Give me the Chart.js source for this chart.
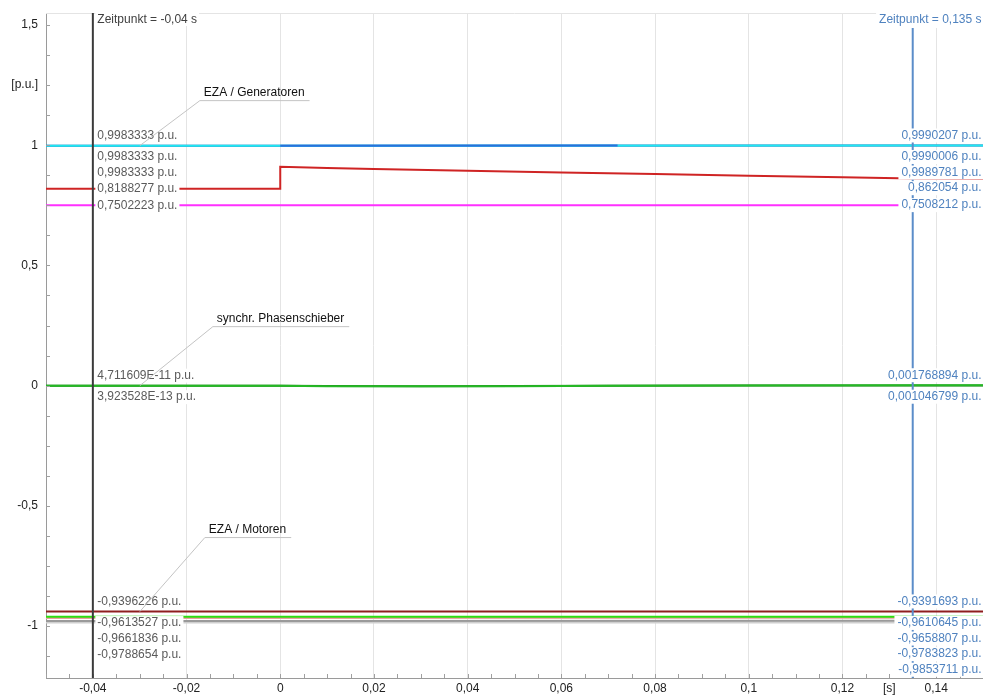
<!DOCTYPE html>
<html>
<head>
<meta charset="utf-8">
<script src="https://cdn.jsdelivr.net/npm/chart.js@4/dist/chart.umd.min.js"></script>
<style>
  html, body { margin: 0; padding: 0; background: #fff; }
  canvas { display: block; }
</style>
</head>
<body>
<canvas id="chart" width="983" height="695"></canvas>
<script>
// Cursor times [s]
const cursorStart = -0.04;
const cursorEnd = 0.135;

// Axis tick labels
const xTickValues = [-0.04, -0.02, 0, 0.02, 0.04, 0.06, 0.08, 0.1, 0.12, 0.13, 0.14];
const xTickLabels = ['-0,04', '-0,02', '0', '0,02', '0,04', '0,06', '0,08', '0,1', '0,12', '[s]', '0,14'];
const yTickValues = [1.5, 1.25, 1, 0.5, 0, -0.5, -1];
const yTickLabels = ['1,5', '[p.u.]', '1', '0,5', '0', '-0,5', '-1'];

// Group names
const groupNames = ['EZA / Generatoren', 'synchr. Phasenschieber', 'EZA / Motoren'];

// Time points [s]
const tFlat   = [-0.05, -0.04, 0, 0.135, 0.15];
const tBlue   = [-0.05, -0.04, 0, 0.072, 0.135, 0.15];
const tStep   = [-0.05, -0.04, 0, 0, 0.01, 0.02, 0.04, 0.06, 0.08, 0.1, 0.12, 0.135, 0.15];
const tSmooth = [-0.05, -0.04, 0, 0.01, 0.03, 0.05, 0.07, 0.1, 0.135, 0.15];
const tLate   = [-0.05, 0.135, 0.15];

// EZA / Generatoren [p.u.]
const genCyan    = [0.9983333, 0.9983333, 0.9983333, 0.9990207, 0.9990300];
const genBlue    = [0.9983333, 0.9983333, 0.9983333, 0.9987500, 0.9990006, 0.9990100];
const genNavy    = [0.9983333, 0.9983333, 0.9983333, 0.9989781, 0.9989850];
const genRed     = [0.8188277, 0.8188277, 0.8188277, 0.910, 0.905, 0.901, 0.894, 0.887, 0.880, 0.873, 0.867, 0.862054, 0.8595];
const genMagenta = [0.7502223, 0.7502223, 0.7502223, 0.7508212, 0.7508300];

// synchr. Phasenschieber [p.u.]
const phaseGreen = [4.711609e-11, 4.711609e-11, 4.711609e-11, -0.002, -0.003, -0.002, -0.0005, 0.001, 0.001768894, 0.0019];
const phaseDark  = [3.923528e-13, 3.923528e-13, 3.923528e-13, -0.0015, -0.002, -0.0015, -0.0003, 0.0006, 0.001046799, 0.0011];

// EZA / Motoren [p.u.]
const motDarkRed   = [-0.9396226, -0.9396226, -0.9396226, -0.9391693, -0.9391600];
const motGreen     = [-0.9613527, -0.9613527, -0.9613527, -0.9610645, -0.9610500];
const motPink      = [-0.9661836, -0.9661836, -0.9661836, -0.9658807, -0.9658700];
const motGrey      = [-0.9788654, -0.9788654, -0.9788654, -0.9783823, -0.9783700];
const motLightGrey = [-0.9854000, -0.9853711, -0.9853700];

const FONT_FAMILY = '"Liberation Sans", Arial, Helvetica, sans-serif';
const FONT = '12px ' + FONT_FAMILY;
const COL_LEFT = '#5a5a5a';
const COL_RIGHT = '#4f82bf';

function pts(times, values) {
  return times.map((t, i) => ({ x: t, y: values[i] }));
}
function series(times, values, color, extra) {
  return Object.assign({
    data: pts(times, values),
    borderColor: color,
    borderWidth: 2,
    pointRadius: 0,
    tension: 0,
    fill: false
  }, extra || {});
}
function fmt(v) {
  return String(v).replace('.', ',').replace('e', 'E');
}
function near(a, b) { return Math.abs(a - b) < 1e-9; }

const BLUE = '#2b6fdc';
const dsBlue = series(tBlue, genBlue, BLUE, {
  segment: {
    borderColor: c => (c.p0.parsed.x >= 0 && c.p1.parsed.x <= 0.072 + 1e-9) ? BLUE : 'rgba(0,0,0,0)'
  }
});
const dsCyan = series(tFlat, genCyan, '#1ee8f2');
const dsNavy = series(tFlat, genNavy, '#2b4fb0');
const dsRed = series(tStep, genRed, '#cf2424');
const dsMagenta = series(tFlat, genMagenta, '#ff30ff');
const dsPhase = series(tSmooth, phaseGreen, '#25b825');
const dsPhase2 = series(tSmooth, phaseDark, '#1b7a1b');
const dsMotDR = series(tFlat, motDarkRed, '#8e1e1e');
const dsMotG = series(tFlat, motGreen, '#2ddd10');
const dsMotP = series(tFlat, motPink, '#e6a49c');
const dsMotGr = series(tFlat, motGrey, '#9a9a9a');
const dsMotLG = series(tLate, motLightGrey, '#cfcfcf');

const datasets = [dsBlue, dsCyan, dsNavy, dsRed, dsMagenta, dsPhase, dsPhase2,
                  dsMotDR, dsMotG, dsMotP, dsMotGr, dsMotLG];

// group name callouts: anchor series, elbow offset from the anchor
const callouts = [
  { text: groupNames[0], ds: dsCyan, dx: 60, dy: -45 },
  { text: groupNames[1], ds: dsPhase, dx: 73, dy: -59 },
  { text: groupNames[2], ds: dsMotDR, dx: 65, dy: -74 }
];

function stepTicks(from, to, step) {
  const out = [];
  const n0 = Math.round(from / step), n1 = Math.round(to / step);
  for (let k = n0; k <= n1; k++) out.push({ value: +(k * step).toFixed(6) });
  return out;
}

// value labels at a cursor: first of a group sits above its line, the rest stack below
function cursorItems(chart, t) {
  const ys = chart.scales.y;
  const items = [];
  chart.data.datasets.forEach((ds, i) => {
    const p = ds.data.find(d => near(d.x, t));
    if (p) items.push({ v: p.y, py: ys.getPixelForValue(p.y), i });
  });
  items.sort((a, b) => (a.py - b.py) || (a.i - b.i));
  let next = -Infinity, group = -1;
  items.forEach(it => {
    if (it.py > next + 20) { group++; it.cy = it.py - 10; next = it.py + 11.5; }
    else { it.cy = Math.max(it.py, next); next = it.cy + 15.6; }
    it.group = group;
  });
  return items;
}

const bgPlugin = {
  id: 'bg',
  beforeDraw(chart) {
    const ctx = chart.ctx;
    ctx.save();
    ctx.fillStyle = '#fff';
    ctx.fillRect(0, 0, chart.width, chart.height);
    ctx.restore();
  }
};

const overlayPlugin = {
  id: 'overlay',
  afterDatasetsDraw(chart) {
    const ctx = chart.ctx;
    const a = chart.chartArea;
    const xs = chart.scales.x, ys = chart.scales.y;
    ctx.save();

    // top frame line
    ctx.strokeStyle = '#e4e4e4';
    ctx.lineWidth = 1;
    ctx.beginPath();
    ctx.moveTo(a.left, a.top + 0.5);
    ctx.lineTo(a.right, a.top + 0.5);
    ctx.stroke();

    // inward tick marks
    ctx.strokeStyle = '#a0a0a0';
    ctx.beginPath();
    xs.ticks.forEach(tk => {
      const px = Math.round(xs.getPixelForValue(tk.value)) + 0.5;
      ctx.moveTo(px, a.bottom);
      ctx.lineTo(px, a.bottom - 4);
    });
    ys.ticks.forEach(tk => {
      const py = Math.round(ys.getPixelForValue(tk.value)) + 0.5;
      ctx.moveTo(a.left, py);
      ctx.lineTo(a.left + 4, py);
    });
    ctx.stroke();

    // cursor lines
    const x0 = xs.getPixelForValue(cursorStart);
    const x1 = xs.getPixelForValue(cursorEnd);
    ctx.lineWidth = 2;
    ctx.strokeStyle = '#3a3a3a';
    ctx.beginPath();
    ctx.moveTo(x0, a.top);
    ctx.lineTo(x0, a.bottom);
    ctx.stroke();
    ctx.strokeStyle = '#5b8dc9';
    ctx.beginPath();
    ctx.moveTo(x1, a.top);
    ctx.lineTo(x1, a.bottom);
    ctx.stroke();

    ctx.font = FONT;
    ctx.textBaseline = 'middle';
    const H = 7;
    const HY = a.top + 6.5;

    // left cursor labels
    const left = cursorItems(chart, cursorStart);
    const lx = x0 + 4.5;
    const head0 = 'Zeitpunkt = ' + fmt(cursorStart) + ' s';
    ctx.fillStyle = '#fff';
    ctx.fillRect(lx - 2, HY - 6.5, ctx.measureText(head0).width + 4, 13);
    left.forEach(it => {
      it.text = fmt(it.v) + ' p.u.';
      ctx.fillRect(lx - 2, it.cy - H, ctx.measureText(it.text).width + 4, 2 * H);
    });
    ctx.textAlign = 'left';
    ctx.fillStyle = '#404040';
    ctx.fillText(head0, lx, HY);
    ctx.fillStyle = COL_LEFT;
    left.forEach(it => ctx.fillText(it.text, lx, it.cy));

    // right cursor labels, one box column per group
    const right = cursorItems(chart, cursorEnd);
    const rx = a.right - 1.5;
    const head1 = 'Zeitpunkt = ' + fmt(cursorEnd) + ' s';
    const groupW = {};
    right.forEach(it => {
      it.text = fmt(it.v) + ' p.u.';
      groupW[it.group] = Math.max(groupW[it.group] || 0, ctx.measureText(it.text).width);
    });
    ctx.fillStyle = '#fff';
    const hw = ctx.measureText(head1).width;
    ctx.fillRect(rx - hw - 3, HY - 6.5, hw + 6, 15);
    right.forEach(it => {
      const w = groupW[it.group];
      ctx.fillRect(rx - w - 3, it.cy - H, w + 6, 2 * H);
    });
    ctx.textAlign = 'right';
    ctx.fillStyle = COL_RIGHT;
    ctx.fillText(head1, rx, HY);
    right.forEach(it => ctx.fillText(it.text, rx, it.cy));

    // group callouts
    ctx.textAlign = 'left';
    ctx.lineWidth = 1;
    callouts.forEach(c => {
      const p = c.ds.data.find(d => near(d.x, cursorStart));
      const ax = x0 + 47;
      const ay = ys.getPixelForValue(p.y);
      const ex = ax + c.dx, ey = ay + c.dy;
      const w = ctx.measureText(c.text).width;
      ctx.strokeStyle = '#c4c4c4';
      ctx.beginPath();
      ctx.moveTo(ax, ay);
      ctx.lineTo(ex, ey);
      ctx.lineTo(ex + 4 + w + 5, ey);
      ctx.stroke();
      ctx.fillStyle = '#111';
      ctx.fillText(c.text, ex + 4, ey - 8);
    });

    ctx.restore();
  }
};

function labelFor(values, labels, v) {
  const k = values.findIndex(x => near(x, v));
  return k >= 0 ? labels[k] : '';
}

Chart.defaults.font.family = FONT_FAMILY;
Chart.defaults.font.size = 12;
Chart.defaults.color = '#222';

new Chart(document.getElementById('chart'), {
  type: 'line',
  data: { datasets },
  options: {
    responsive: false,
    animation: false,
    devicePixelRatio: 1,
    parsing: false,
    normalized: true,
    layout: { padding: { top: 13, right: 0, left: 0, bottom: 0 } },
    plugins: { legend: { display: false }, tooltip: { enabled: false } },
    scales: {
      x: {
        type: 'linear',
        min: -0.05,
        max: 0.15,
        afterBuildTicks(s) { s.ticks = stepTicks(-0.05, 0.15, 0.005); },
        afterFit(s) {
          s.height = 17;
          s.paddingLeft = 0; s.paddingRight = 0; s.paddingTop = 0; s.paddingBottom = 0;
        },
        ticks: {
          autoSkip: false,
          maxRotation: 0,
          padding: 3,
          color: '#222',
          callback: v => labelFor(xTickValues, xTickLabels, v)
        },
        grid: {
          drawTicks: false,
          lineWidth: 1,
          color: c => {
            const v = c.tick ? c.tick.value : NaN;
            return near(Math.round(v / 0.02) * 0.02, v) ? '#e4e4e4' : 'rgba(0,0,0,0)';
          }
        },
        border: { display: true, color: '#9a9a9a', width: 1 }
      },
      y: {
        type: 'linear',
        min: -1.216,
        max: 1.55,
        afterBuildTicks(s) { s.ticks = stepTicks(-1.125, 1.5, 0.125); },
        afterFit(s) {
          s.width = 46;
          s.paddingLeft = 0; s.paddingRight = 0; s.paddingTop = 0; s.paddingBottom = 0;
        },
        ticks: {
          autoSkip: false,
          padding: 8,
          color: '#222',
          callback: v => labelFor(yTickValues, yTickLabels, v)
        },
        grid: { drawOnChartArea: false, drawTicks: false },
        border: { display: true, color: '#9a9a9a', width: 1 }
      }
    }
  },
  plugins: [bgPlugin, overlayPlugin]
});
</script>
</body>
</html>
